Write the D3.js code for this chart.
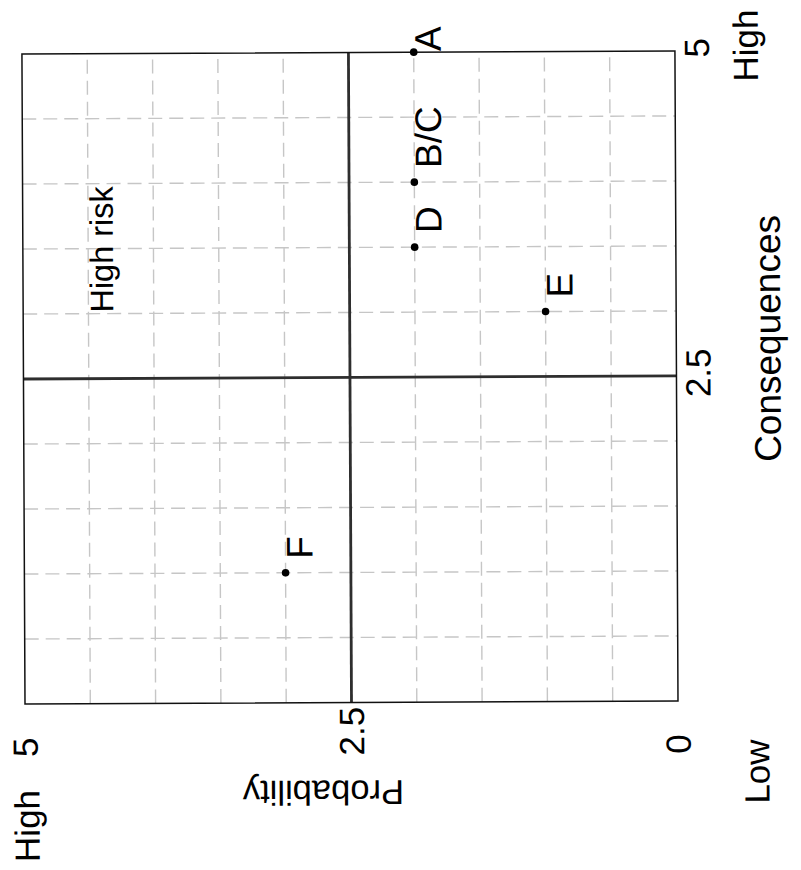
<!DOCTYPE html>
<html>
<head>
<meta charset="utf-8">
<script src="https://cdn.jsdelivr.net/npm/d3@7"></script>
<style>
  body { margin: 0; background: #fff; }
  text { font-family: "Liberation Sans", Arial, sans-serif; fill: #000; }
</style>
</head>
<body>
<svg id="chart" width="801" height="870"></svg>
<script>
// Risk register: each item's consequence and probability scores (0-5)
const risks = ["A", "B/C", "D", "E", "F"];
const consequences = [5, 4, 3.5, 3, 1];
const probability = [2, 2, 2, 1, 3];

// Axis ticks and grid
const consTicks = [2.5, 5];
const consTickLabels = ["2.5", "5"];
const probTicks = [5, 2.5, 0];
const probTickLabels = ["5", "2.5", "0"];
const gridValues = [0.5, 1, 1.5, 2, 3, 3.5, 4, 4.5];
const quadrantSplit = [2.5];

const plotW = 650;   // consequences axis length
const plotH = 653;   // probability axis length

const svg = d3.select("#chart");

// The matrix is laid out with consequences along the horizontal axis and
// then turned a quarter turn counter-clockwise onto the page.
const g = svg.append("g")
  .attr("transform", "translate(25,704) rotate(-90.27)");

const x = d3.scaleLinear().domain([0, 5]).range([0, plotW]);
const y = d3.scaleLinear().domain([0, 5]).range([plotH, 0]);

// dashed grid
const grid = g.append("g")
  .attr("stroke", "#c6c6c6")
  .attr("stroke-width", 1.4)
  .attr("stroke-dasharray", "14,7")
  .attr("fill", "none");
grid.selectAll("line.gx").data(gridValues).join("line")
  .attr("class", "gx")
  .attr("x1", d => x(d)).attr("x2", d => x(d))
  .attr("y1", 0).attr("y2", plotH);
grid.selectAll("line.gy").data(gridValues).join("line")
  .attr("class", "gy")
  .attr("y1", d => y(d)).attr("y2", d => y(d))
  .attr("x1", 0).attr("x2", plotW);

// quadrant dividers
const split = g.append("g")
  .attr("stroke", "#2e2e2e")
  .attr("stroke-width", 2.8);
split.selectAll("line.sx").data(quadrantSplit).join("line")
  .attr("class", "sx")
  .attr("x1", d => x(d)).attr("x2", d => x(d))
  .attr("y1", 0).attr("y2", plotH);
split.selectAll("line.sy").data(quadrantSplit).join("line")
  .attr("class", "sy")
  .attr("y1", d => y(d)).attr("y2", d => y(d))
  .attr("x1", 0).attr("x2", plotW);

// frame
g.append("rect")
  .attr("x", 0).attr("y", 0)
  .attr("width", plotW).attr("height", plotH)
  .attr("fill", "none")
  .attr("stroke", "#111")
  .attr("stroke-width", 1.5);

// points
const pts = risks.map((r, i) => ({ name: r, c: consequences[i], p: probability[i] }));
g.selectAll("circle.pt").data(pts).join("circle")
  .attr("class", "pt")
  .attr("cx", d => x(d.c))
  .attr("cy", d => y(d.p))
  .attr("r", 3.8)
  .attr("fill", "#000");

// point labels sit just right of and below each point;
// the label on the plot edge is tucked closer
g.selectAll("text.lbl").data(pts).join("text")
  .attr("class", "lbl")
  .attr("x", d => x(d.c) + (d.c >= 5 ? 1 : 14))
  .attr("y", d => y(d.p) + 27)
  .attr("font-size", 37)
  .text(d => d.name);

// quadrant note
g.append("text")
  .attr("x", 391).attr("y", 90)
  .attr("font-size", 32.5)
  .text("High risk");

// consequences tick labels
g.selectAll("text.ct").data(consTicks).join("text")
  .attr("class", "ct")
  .attr("x", d => x(d) + 3)
  .attr("y", plotH + 34)
  .attr("text-anchor", "middle")
  .attr("font-size", 35)
  .text((d, i) => consTickLabels[i]);

// probability tick labels
g.selectAll("text.pt").data(probTicks).join("text")
  .attr("class", "pt")
  .attr("x", -53)
  .attr("y", d => y(d) + 12.5)
  .attr("font-size", 35)
  .text((d, i) => probTickLabels[i]);

// axis titles and ends
g.append("text")
  .attr("x", 362).attr("y", plotH + 104)
  .attr("text-anchor", "middle")
  .attr("font-size", 37)
  .text("Consequences");

g.append("text")
  .attr("x", 655).attr("y", plotH + 83)
  .attr("text-anchor", "middle")
  .attr("font-size", 35)
  .text("High");

g.append("text")
  .attr("x", -71).attr("y", plotH + 91)
  .attr("text-anchor", "middle")
  .attr("font-size", 35)
  .text("Low");

g.append("text")
  .attr("x", -122).attr("y", 14)
  .attr("text-anchor", "middle")
  .attr("font-size", 35)
  .text("High");

g.append("text")
  .attr("transform", "translate(-78,298) rotate(-90)")
  .attr("text-anchor", "middle")
  .attr("font-size", 34.5)
  .text("Probability");
</script>
</body>
</html>
